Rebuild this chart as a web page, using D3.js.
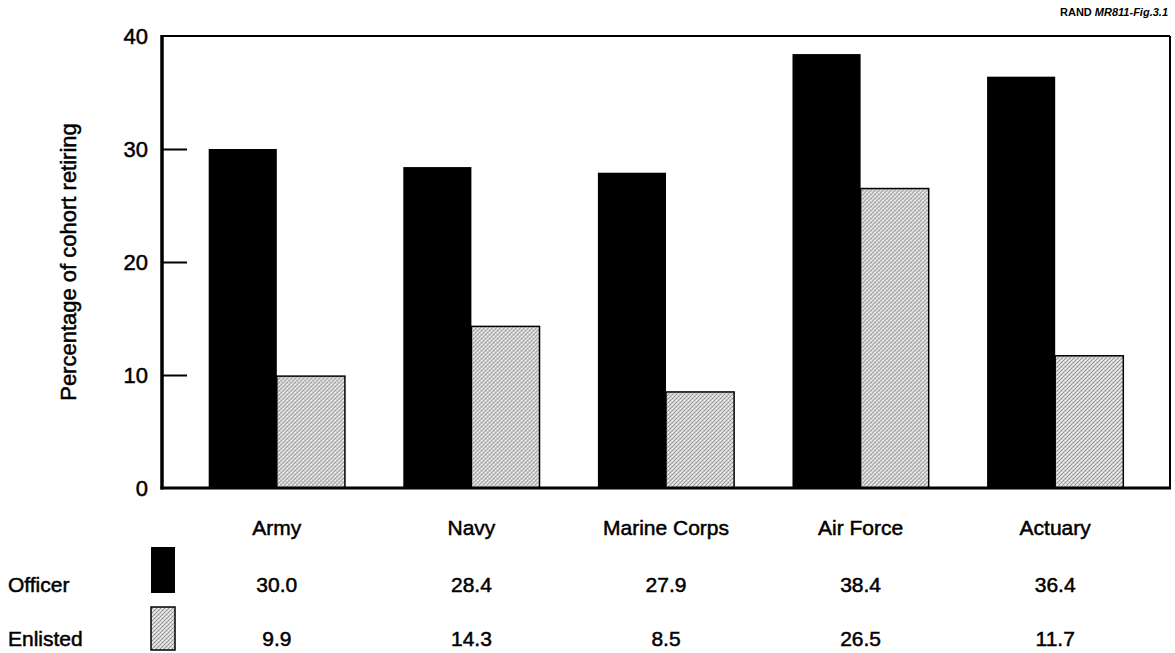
<!DOCTYPE html>
<meta charset="utf-8">
<title>Cohort retiring</title>
<style>
body {
  margin: 0px;
  background: #fff;
}
svg {
  font-family: "Liberation Sans", Arial, sans-serif;
}
.lbl {
  font-size: 21px;
  fill: #000;
  stroke: #000;
  stroke-width: 0.5px;
}
</style>
<script src="https://d3js.org/d3.v7.min.js"></script>
<body>
<script>
// data
var services = ["Army", "Navy", "Marine Corps", "Air Force", "Actuary"];
var officer = [30.0, 28.4, 27.9, 38.4, 36.4];
var enlisted = [9.9, 14.3, 8.5, 26.5, 11.7];
var seriesNames = ["Officer", "Enlisted"];
var yTicks = [0, 10, 20, 30, 40];

var width = 1175, height = 653;
var plotLeft = 162, plotRight = 1170, plotTop = 36, plotBottom = 488;

var svg = d3.select("body").append("svg")
    .attr("width", width)
    .attr("height", height);

// speckled grey like the scanned print
var defs = svg.append("defs");
var pat = defs.append("pattern")
    .attr("id", "grain")
    .attr("width", 4)
    .attr("height", 4)
    .attr("patternUnits", "userSpaceOnUse");
pat.append("rect").attr("width", 4).attr("height", 4).attr("fill", "#d4d4d4");
[[0, 0, "#8a8a8a"], [2, 2, "#8a8a8a"], [1, 3, "#a2a2a2"], [3, 1, "#a2a2a2"], [2, 0, "#ffffff"], [0, 2, "#eeeeee"]]
  .forEach(function(p) {
    pat.append("rect").attr("x", p[0]).attr("y", p[1])
        .attr("width", 1).attr("height", 1).attr("fill", p[2]);
  });

var x = d3.scaleBand()
    .domain(services)
    .range([plotLeft, plotRight])
    .paddingInner(0.3)
    .paddingOuter(0.24);

var x1 = d3.scaleBand()
    .domain(seriesNames)
    .range([0, x.bandwidth()]);

var y = d3.scaleLinear()
    .domain([0, 40])
    .range([plotBottom, plotTop]);

var fills = { Officer: "#000", Enlisted: "url(#grain)" };

// frame
svg.append("line")
    .attr("x1", plotLeft).attr("x2", plotRight)
    .attr("y1", plotTop).attr("y2", plotTop)
    .attr("stroke", "#000").attr("stroke-width", 2);
svg.append("line")
    .attr("x1", plotRight).attr("x2", plotRight)
    .attr("y1", plotTop).attr("y2", plotBottom)
    .attr("stroke", "#000").attr("stroke-width", 2);

// bars
var groups = svg.selectAll("g.grp")
    .data(services)
  .enter().append("g")
    .attr("class", "grp")
    .attr("transform", function(d) { return "translate(" + x(d) + ",0)"; });

groups.selectAll("rect")
    .data(function(d, i) {
      return [
        { key: "Officer", value: officer[i] },
        { key: "Enlisted", value: enlisted[i] }
      ];
    })
  .enter().append("rect")
    .attr("x", function(d) { return x1(d.key); })
    .attr("y", function(d) { return y(d.value); })
    .attr("width", x1.bandwidth())
    .attr("height", function(d) { return y(0) - y(d.value); })
    .attr("fill", function(d) { return fills[d.key]; })
    .attr("stroke", "#000")
    .attr("stroke-width", function(d) { return d.key == "Officer" ? 0 : 1.5; });

// y axis, ticks pointing inward
var yAxis = d3.axisRight(y)
    .tickValues(yTicks)
    .tickSize(25)
    .tickFormat("");
svg.append("g")
    .attr("transform", "translate(" + plotLeft + ",0)")
    .call(yAxis)
    .call(function(g) {
      g.select(".domain").remove();
      g.selectAll(".tick line").attr("stroke", "#000").attr("stroke-width", 2);
      g.selectAll(".tick").filter(function(d) { return d == 0 || d == 40; }).remove();
    });

svg.selectAll("text.ytick")
    .data(yTicks)
  .enter().append("text")
    .attr("class", "lbl ytick")
    .attr("x", plotLeft - 14)
    .attr("y", function(d) { return y(d); })
    .attr("dy", "0.36em")
    .attr("text-anchor", "end")
    .style("font-size", "22px")
    .text(function(d) { return d; });

svg.append("line")
    .attr("x1", plotLeft).attr("x2", plotLeft)
    .attr("y1", plotTop - 1).attr("y2", plotBottom + 1.5)
    .attr("stroke", "#000").attr("stroke-width", 3.5);
svg.append("line")
    .attr("x1", plotLeft - 1.5).attr("x2", plotRight + 1)
    .attr("y1", plotBottom).attr("y2", plotBottom)
    .attr("stroke", "#000").attr("stroke-width", 3);

// y title
svg.append("text")
    .attr("class", "lbl")
    .attr("transform", "translate(76,262) rotate(-90)")
    .attr("text-anchor", "middle")
    .style("font-size", "22px")
    .text("Percentage of cohort retiring");

// category labels
svg.selectAll("text.cat")
    .data(services)
  .enter().append("text")
    .attr("class", "lbl cat")
    .attr("x", function(d) { return x(d) + x.bandwidth() / 2; })
    .attr("y", 535)
    .attr("text-anchor", "middle")
    .text(function(d) { return d; });

// data table below
var rows = [
  { name: "Officer", values: officer, y: 592, sy: 547, sh: 46 },
  { name: "Enlisted", values: enlisted, y: 646, sy: 607, sh: 43 }
];

rows.forEach(function(r) {
  svg.append("text")
      .attr("class", "lbl")
      .attr("x", 8)
      .attr("y", r.y)
      .text(r.name);
  svg.append("rect")
      .attr("x", 151)
      .attr("y", r.sy)
      .attr("width", 24)
      .attr("height", r.sh)
      .attr("fill", fills[r.name])
      .attr("stroke", "#000")
      .attr("stroke-width", r.name == "Officer" ? 0 : 1.5);
  svg.selectAll(null)
      .data(r.values)
    .enter().append("text")
      .attr("class", "lbl")
      .attr("x", function(d, i) { return x(services[i]) + x.bandwidth() / 2; })
      .attr("y", r.y)
      .attr("text-anchor", "middle")
      .text(function(d) { return d.toFixed(1); });
});

// figure tag
var tag = svg.append("text")
    .attr("x", 1168)
    .attr("y", 16)
    .attr("text-anchor", "end")
    .style("font-size", "11px")
    .style("font-weight", "bold");
tag.append("tspan").text("RAND ");
tag.append("tspan").style("font-style", "italic").text("MR811-Fig.3.1");
</script>
